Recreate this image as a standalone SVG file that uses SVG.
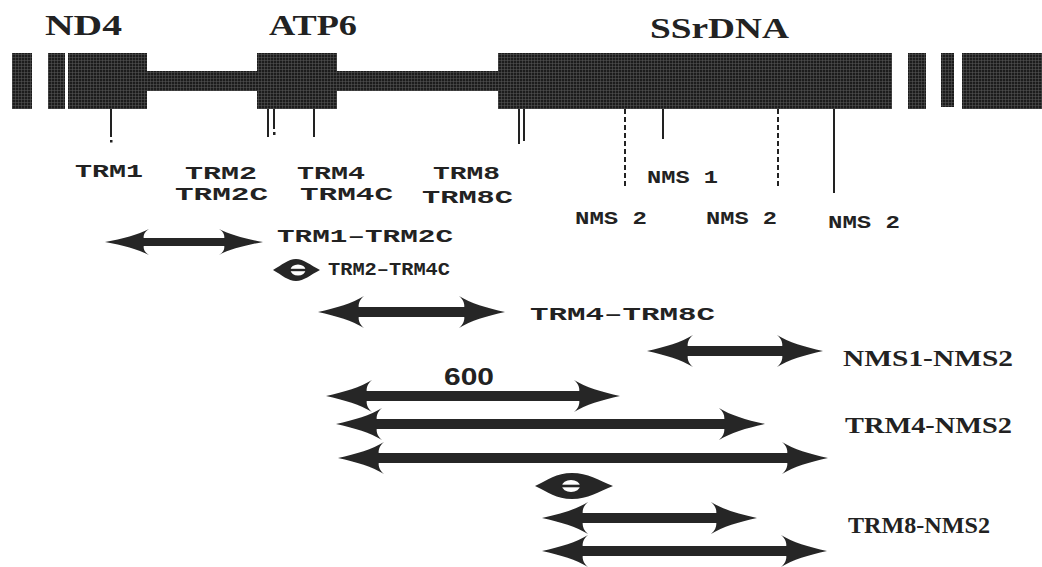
<svg xmlns="http://www.w3.org/2000/svg" width="1042" height="567" viewBox="0 0 1042 567">
<defs>
<pattern id="hatch" width="3" height="3" patternUnits="userSpaceOnUse">
<rect width="3" height="3" fill="#1c1c1c"/>
<path d="M0 0.5H3M0.5 0V3" stroke="#5a5a5a" stroke-width="0.5"/>
</pattern>
<marker id="headBig" markerUnits="userSpaceOnUse" orient="auto-start-reverse" refX="-30" refY="0" markerWidth="60" markerHeight="40" overflow="visible">
<path d="M0,0 C-18.4,-4 -34.5,-8.8 -46,-16 C-41,-12 -40,-7 -41,-3 L-41,3 C-40,7 -41,12 -46,16 C-34.5,8.8 -18.4,4 0,0 Z" fill="#262626"/>
</marker>
<marker id="headSmall" markerUnits="userSpaceOnUse" orient="auto-start-reverse" refX="-30" refY="0" markerWidth="60" markerHeight="40" overflow="visible">
<path d="M0,0 C-17.6,-3.3 -33,-7.2 -44,-13 C-39,-10 -38,-6 -39,-2.5 L-39,2.5 C-38,6 -39,10 -44,13 C-33,7.2 -17.6,3.3 0,0 Z" fill="#262626"/>
</marker>
</defs>
<style>
.blk{fill:url(#hatch)}
.tick{stroke:#222;stroke-width:2;fill:none}
.dash{stroke:#222;stroke-width:2;fill:none;stroke-dasharray:5 3}
.gene{font-family:"Liberation Serif",serif;font-weight:bold;font-size:30px;fill:#222}
.lab{font-family:"Liberation Mono",monospace;font-weight:bold;font-size:18px;fill:#222}
.rng{font-family:"Liberation Serif",serif;font-weight:bold;font-size:24px;fill:#222}
.num{font-family:"Liberation Sans",sans-serif;font-weight:bold;font-size:23px;fill:#222}
.big{stroke:#262626;stroke-width:10;fill:none;marker-start:url(#headBig);marker-end:url(#headBig)}
.small{stroke:#262626;stroke-width:8;fill:none;marker-start:url(#headSmall);marker-end:url(#headSmall)}
.dia{fill:#262626}
</style>
<rect width="1042" height="567" fill="#ffffff"/>

<g id="map">
<rect class="blk" x="12" y="53" width="20" height="56"/>
<rect class="blk" x="48" y="53" width="17" height="56"/>
<rect class="blk" x="68" y="53" width="79" height="56"/>
<rect class="blk" x="147" y="71" width="111" height="20"/>
<rect class="blk" x="257" y="53" width="80" height="56"/>
<rect class="blk" x="337" y="71" width="161" height="20"/>
<rect class="blk" x="498" y="53" width="394" height="56"/>
<rect class="blk" x="908" y="53" width="18" height="56"/>
<rect class="blk" x="941" y="53" width="13" height="54"/>
<rect class="blk" x="962" y="53" width="80" height="56"/>
</g>

<g id="genes">
<text class="gene" x="45" y="35" textLength="77" lengthAdjust="spacingAndGlyphs">ND4</text>
<text class="gene" x="269" y="35" textLength="88" lengthAdjust="spacingAndGlyphs">ATP6</text>
<text class="gene" x="650" y="38" textLength="139" lengthAdjust="spacingAndGlyphs">SSrDNA</text>
</g>

<g id="ticks">
<line class="tick" x1="111" y1="109" x2="111" y2="137"/>
<rect x="110" y="140" width="2.5" height="2.5" fill="#222"/>
<line class="tick" x1="268" y1="109" x2="268" y2="137"/>
<line class="tick" x1="274" y1="109" x2="274" y2="129"/>
<rect x="273" y="132" width="2.5" height="3" fill="#222"/>
<line class="tick" x1="314" y1="109" x2="314" y2="137"/>
<line class="tick" x1="519" y1="109" x2="519" y2="144"/>
<line class="tick" x1="524" y1="109" x2="524" y2="141"/>
<line class="dash" x1="625" y1="109" x2="625" y2="188"/>
<line class="tick" x1="663" y1="109" x2="663" y2="139"/>
<line class="dash" x1="778" y1="109" x2="778" y2="188"/>
<line class="tick" x1="834" y1="109" x2="834" y2="193"/>
</g>

<g id="primer-labels">
<g id="n-trm1"><text class="lab" x="75" y="177" textLength="68" lengthAdjust="spacingAndGlyphs">TRM1</text></g>
<g id="n-trm2"><text class="lab" x="185" y="179" textLength="72" lengthAdjust="spacingAndGlyphs">TRM2</text>
<text class="lab" x="175" y="200" textLength="93" lengthAdjust="spacingAndGlyphs">TRM2C</text></g>
<g id="n-trm4"><text class="lab" x="297" y="179" textLength="68" lengthAdjust="spacingAndGlyphs">TRM4</text>
<text class="lab" x="300" y="200" textLength="93" lengthAdjust="spacingAndGlyphs">TRM4C</text></g>
<g id="n-trm8"><text class="lab" x="433" y="179" textLength="67" lengthAdjust="spacingAndGlyphs">TRM8</text>
<text class="lab" x="422" y="203" textLength="91" lengthAdjust="spacingAndGlyphs">TRM8C</text></g>
<g id="n-nms1"><text class="lab" x="647" y="183" textLength="71" lengthAdjust="spacingAndGlyphs">NMS 1</text></g>
<g id="n-nms2a"><text class="lab" x="575" y="224" textLength="72" lengthAdjust="spacingAndGlyphs">NMS 2</text></g>
<g id="n-nms2b"><text class="lab" x="706" y="224" textLength="71" lengthAdjust="spacingAndGlyphs">NMS 2</text></g>
<g id="n-nms2c"><text class="lab" x="828" y="228" textLength="72" lengthAdjust="spacingAndGlyphs">NMS 2</text></g>
</g>

<g id="connectors">
<line class="small" x1="135" y1="242" x2="233" y2="242"/>
<path class="dia" d="M273,270 C282,265 288,259 296,259 C304,259 310,265 320,270 C310,275 304,281 296,281 C288,281 282,275 273,270 Z"/>
<ellipse cx="298" cy="270" rx="7.5" ry="5.5" fill="#fff"/>
<rect x="289" y="268.8" width="18" height="2.4" fill="#262626"/>
<line class="big" x1="348" y1="312" x2="475" y2="312"/>
<line class="big" x1="677" y1="351" x2="793" y2="351"/>
<line class="big" x1="356" y1="396" x2="590" y2="396"/>
<line class="big" x1="366" y1="424" x2="735" y2="424"/>
<line class="big" x1="368" y1="458" x2="798" y2="458"/>
<path class="dia" d="M535,486 C548,480 556,473 572,473 C588,473 598,480 613,486 C598,492 588,499 572,499 C556,499 548,492 535,486 Z"/>
<ellipse cx="571" cy="486" rx="9" ry="6" fill="#fff"/>
<rect x="561" y="484.7" width="20" height="2.6" fill="#262626"/>
<line class="big" x1="572" y1="518" x2="727" y2="518"/>
<line class="big" x1="572" y1="551" x2="797" y2="551"/>
</g>

<g id="range-labels">
<g id="r1"><text class="lab" x="277" y="242" textLength="176" lengthAdjust="spacingAndGlyphs">TRM1–TRM2C</text></g>
<g id="r2"><text class="lab" x="328" y="275" textLength="122" lengthAdjust="spacingAndGlyphs">TRM2–TRM4C</text></g>
<g id="r3"><text class="lab" x="530" y="320" textLength="185" lengthAdjust="spacingAndGlyphs">TRM4–TRM8C</text></g>
<g id="r4"><text class="rng" x="843" y="366" textLength="170" lengthAdjust="spacingAndGlyphs">NMS1-NMS2</text></g>
<g id="r5"><text class="num" x="444" y="385" textLength="50" lengthAdjust="spacingAndGlyphs">600</text></g>
<g id="r6"><text class="rng" x="845" y="433" textLength="167" lengthAdjust="spacingAndGlyphs">TRM4-NMS2</text></g>
<g id="r7"><text class="rng" x="848" y="533" textLength="142" lengthAdjust="spacingAndGlyphs">TRM8-NMS2</text></g>
</g>
</svg>
